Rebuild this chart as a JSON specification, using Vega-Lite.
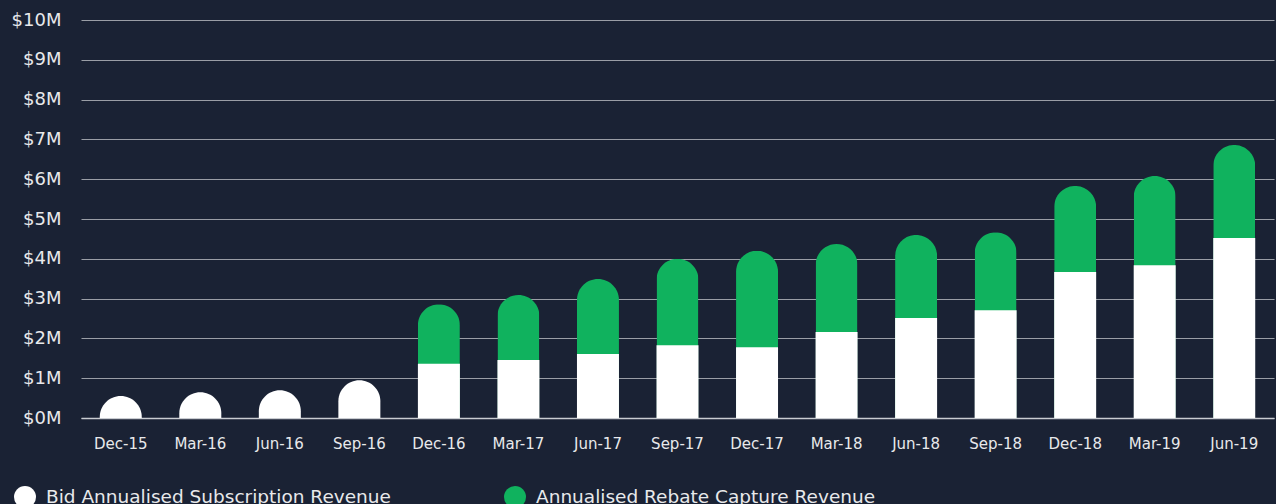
{
  "$schema": "https://vega.github.io/schema/vega-lite/v6.json",
  "autosize": {"type": "none"},
  "width": 1193,
  "height": 398,
  "padding": {"left": 81, "top": 20, "right": 2, "bottom": 86},
  "background": "#1a2234",
  "config": {
    "view": {"stroke": null},
    "font": "DejaVu Sans",
    "axis": {"labelFont": "DejaVu Sans", "labelColor": "#e8e9eb"}
  },
  "data": {
    "values": [
      {"quarter": "Dec-15", "bid": 0.55, "total": 0.55, "rebate": 0},
      {"quarter": "Mar-16", "bid": 0.65, "total": 0.65, "rebate": 0},
      {"quarter": "Jun-16", "bid": 0.70, "total": 0.70, "rebate": 0},
      {"quarter": "Sep-16", "bid": 0.95, "total": 0.95, "rebate": 0},
      {"quarter": "Dec-16", "bid": 1.36, "total": 2.86, "rebate": 1.50},
      {"quarter": "Mar-17", "bid": 1.46, "total": 3.09, "rebate": 1.63},
      {"quarter": "Jun-17", "bid": 1.61, "total": 3.49, "rebate": 1.88},
      {"quarter": "Sep-17", "bid": 1.83, "total": 4.00, "rebate": 2.17},
      {"quarter": "Dec-17", "bid": 1.78, "total": 4.20, "rebate": 2.42},
      {"quarter": "Mar-18", "bid": 2.16, "total": 4.37, "rebate": 2.21},
      {"quarter": "Jun-18", "bid": 2.51, "total": 4.60, "rebate": 2.09},
      {"quarter": "Sep-18", "bid": 2.71, "total": 4.67, "rebate": 1.96},
      {"quarter": "Dec-18", "bid": 3.67, "total": 5.83, "rebate": 2.16},
      {"quarter": "Mar-19", "bid": 3.84, "total": 6.08, "rebate": 2.24},
      {"quarter": "Jun-19", "bid": 4.52, "total": 6.86, "rebate": 2.34}
    ]
  },
  "encoding": {
    "x": {
      "field": "quarter", "type": "ordinal",
      "sort": ["Dec-15","Mar-16","Jun-16","Sep-16","Dec-16","Mar-17","Jun-17","Sep-17","Dec-17","Mar-18","Jun-18","Sep-18","Dec-18","Mar-19","Jun-19"],
      "scale": {"paddingInner": 0.47, "paddingOuter": 0.235},
      "axis": {
        "title": null, "labelAngle": 0, "labelFontSize": 15, "labelPadding": 18,
        "ticks": false, "domain": true, "domainColor": "#c9ccd1", "domainWidth": 1.5,
        "grid": false
      }
    }
  },
  "layer": [
    {
      "transform": [{"filter": "datum.rebate > 0"}],
      "mark": {"type": "bar", "size": 42, "cornerRadiusTopLeft": 21, "cornerRadiusTopRight": 21},
      "encoding": {
        "y": {
          "field": "total", "type": "quantitative",
          "scale": {"domain": [0, 10], "nice": false},
          "axis": {
            "title": null, "values": [0,1,2,3,4,5,6,7,8,9,10],
            "labelExpr": "'$' + datum.value + 'M'", "labelOverlap": false,
            "labelFontSize": 18, "labelPadding": 20, "ticks": false, "domain": false,
            "grid": true, "gridColor": "#9a9ea6", "gridWidth": 1
          }
        },
        "color": {
          "datum": "Annualised Rebate Capture Revenue",
          "type": "nominal",
          "scale": {
            "domain": ["Bid Annualised Subscription Revenue", "Annualised Rebate Capture Revenue"],
            "range": ["#ffffff", "#10b25e"]
          },
          "legend": {
            "title": null, "orient": "none", "direction": "horizontal",
            "legendX": -67, "legendY": 466,
            "symbolType": "circle", "symbolSize": 484, "symbolStrokeWidth": 0,
            "labelFontSize": 18.5, "labelColor": "#e8e9eb", "labelFont": "DejaVu Sans",
            "labelLimit": 500,
            "columnPadding": 113, "symbolOffset": 0, "labelOffset": 10
          }
        }
      }
    },
    {
      "transform": [{"filter": "datum.rebate > 0"}],
      "mark": {"type": "bar", "size": 42},
      "encoding": {
        "y": {
          "field": "bid", "type": "quantitative",
          "axis": {
            "title": null, "values": [0,1,2,3,4,5,6,7,8,9,10],
            "labelExpr": "'$' + datum.value + 'M'", "labelOverlap": false,
            "labelFontSize": 18, "labelPadding": 20, "ticks": false, "domain": false,
            "grid": true, "gridColor": "#9a9ea6", "gridWidth": 1
          }
        },
        "color": {"datum": "Bid Annualised Subscription Revenue", "type": "nominal"}
      }
    },
    {
      "transform": [{"filter": "datum.rebate == 0"}],
      "mark": {"type": "bar", "size": 42, "cornerRadiusTopLeft": 21, "cornerRadiusTopRight": 21, "clip": true, "y2Offset": 30},
      "encoding": {
        "y": {
          "field": "bid", "type": "quantitative",
          "axis": {
            "title": null, "values": [0,1,2,3,4,5,6,7,8,9,10],
            "labelExpr": "'$' + datum.value + 'M'", "labelOverlap": false,
            "labelFontSize": 18, "labelPadding": 20, "ticks": false, "domain": false,
            "grid": true, "gridColor": "#9a9ea6", "gridWidth": 1
          }
        },
        "y2": {"datum": 0},
        "color": {"datum": "Bid Annualised Subscription Revenue", "type": "nominal"}
      }
    }
  ]
}
